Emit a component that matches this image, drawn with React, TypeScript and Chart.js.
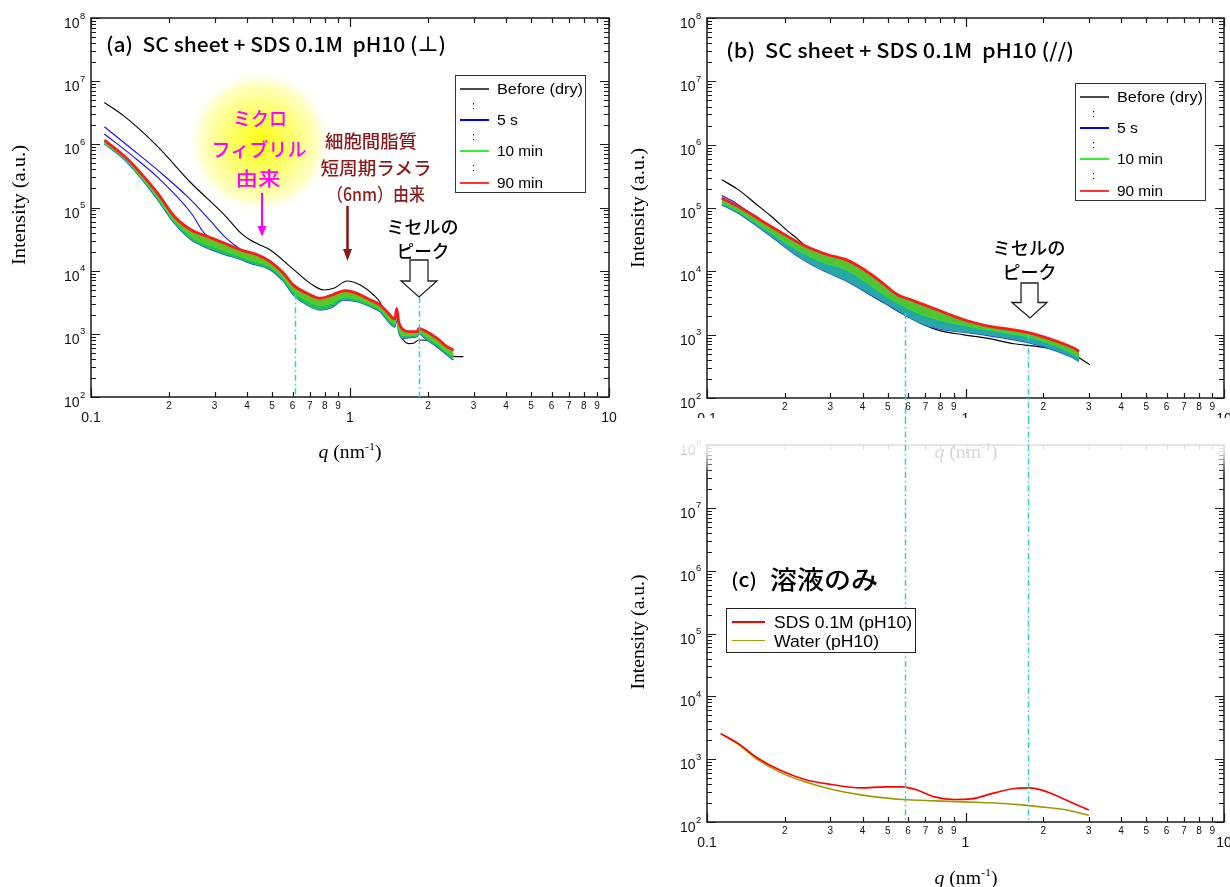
import React, { useEffect, useLayoutEffect, useRef } from 'react';
import { Chart, registerables } from 'chart.js';

Chart.register(...registerables);

type P = [number, number];

// ---------------- Panel (a): SC sheet + SDS 0.1M pH10 (⊥) ----------------
const aBefore: P[] = [
  [0.1126, 4.6e6], [0.135, 2.74e6], [0.181, 9.2e5], [0.244, 2.42e5], [0.328, 7.6e4],
  [0.38, 3.9e4], [0.412, 3.06e4], [0.441, 2.64e4], [0.492, 2.12e4], [0.588, 1.16e4],
  [0.702, 6.3e3], [0.791, 4.94e3], [0.865, 5.26e3], [0.974, 6.87e3], [1.096, 5.93e3],
  [1.234, 4.12e3], [1.309, 3.11e3], [1.39, 1.75e3], [1.49, 1.3e3], [1.515, 1.75e3],
  [1.545, 1.1e3], [1.6, 820], [1.68, 700], [1.76, 710], [1.84, 800], [1.98, 790],
  [2.17, 620], [2.37, 470], [2.51, 440], [2.74, 435],
];
const aBlue1: P[] = [
  [0.1126, 1.9e6], [0.143, 8.6e5], [0.181, 3.9e5], [0.244, 1.3e5], [0.291, 5.96e4],
  [0.328, 3.45e4], [0.358, 2.55e4], [0.38, 2.15e4],
];
const aBlue2: P[] = [
  [0.1126, 1.46e6], [0.143, 6.8e5], [0.181, 3.0e5], [0.244, 8.1e4], [0.274, 3.9e4], [0.3, 3.1e4],
];
const aTop: P[] = [
  [0.1126, 1.17e6], [0.135, 6.4e5], [0.156, 3.47e5], [0.181, 1.68e5], [0.21, 7.2e4],
  [0.244, 4.4e4], [0.283, 3.45e4], [0.328, 2.71e4], [0.38, 2.12e4], [0.441, 1.77e4],
  [0.492, 1.39e4], [0.554, 9.1e3], [0.605, 5.9e3], [0.682, 4.38e3], [0.768, 3.66e3],
  [0.852, 4.12e3], [0.959, 4.82e3], [1.064, 4.38e3], [1.198, 3.44e3], [1.309, 2.86e3],
  [1.39, 2.24e3], [1.49, 1.72e3], [1.515, 2.53e3], [1.54, 1.6e3], [1.585, 1.22e3],
  [1.71, 1.08e3], [1.82, 1.08e3], [1.84, 1.22e3], [1.98, 1.08e3], [2.17, 849],
  [2.37, 627], [2.51, 555],
];
const aMid: P[] = [
  [0.1126, 1.07e6], [0.135, 5.95e5], [0.156, 3.1e5], [0.181, 1.45e5], [0.21, 6.2e4],
  [0.244, 3.5e4], [0.283, 2.6e4], [0.328, 2.1e4], [0.38, 1.7e4], [0.412, 1.5e4],
  [0.492, 1.16e4], [0.554, 7.6e3], [0.605, 4.8e3], [0.682, 3.4e3], [0.768, 2.85e3],
  [0.852, 3.1e3], [0.944, 3.9e3], [1.064, 3.6e3], [1.198, 2.95e3], [1.309, 2.45e3],
  [1.39, 1.85e3], [1.49, 1.45e3], [1.515, 2.0e3], [1.54, 1.25e3], [1.6, 950],
  [1.75, 960], [1.82, 980], [1.84, 1.1e3], [1.98, 900], [2.17, 700], [2.37, 520], [2.51, 440],
];
const aBottom: P[] = [
  [0.1126, 1.02e6], [0.135, 5.65e5], [0.156, 2.9e5], [0.181, 1.32e5], [0.21, 5.6e4],
  [0.244, 3.06e4], [0.283, 2.26e4], [0.328, 1.8e4], [0.38, 1.5e4], [0.412, 1.31e4],
  [0.492, 1.03e4], [0.554, 6.7e3], [0.605, 4.12e3], [0.682, 2.86e3], [0.768, 2.39e3],
  [0.852, 2.63e3], [0.944, 3.44e3], [1.064, 3.23e3], [1.198, 2.69e3], [1.309, 2.24e3],
  [1.39, 1.66e3], [1.49, 1.28e3], [1.515, 1.76e3], [1.54, 1.08e3], [1.6, 849],
  [1.75, 880], [1.82, 902], [1.84, 1.0e3], [1.98, 800], [2.17, 627], [2.37, 462], [2.51, 385],
];

// ---------------- Panel (b): SC sheet + SDS 0.1M pH10 (//) ----------------
const bBefore: P[] = [
  [0.114, 2.8e5], [0.132, 1.95e5], [0.153, 1.2e5], [0.177, 7.4e4], [0.206, 4.27e4],
  [0.225, 3.2e4], [0.269, 1.62e4], [0.321, 1.06e4], [0.361, 7.4e3], [0.419, 4.5e3],
  [0.486, 3.16e3], [0.563, 2.2e3], [0.652, 1.62e3], [0.778, 1.19e3], [0.987, 995],
  [1.21, 883], [1.54, 718], [1.89, 652], [2.26, 578], [2.62, 482], [3.03, 335],
];
const bBlue: P[] = [[0.114, 1.58e5], [0.125, 1.3e5], [0.14, 9.6e4], [0.16, 6.8e4]];
const bTop: P[] = [
  [0.114, 1.44e5], [0.132, 1.06e5], [0.177, 5.1e4], [0.239, 2.53e4], [0.293, 1.83e4],
  [0.35, 1.49e4], [0.406, 1.06e4], [0.47, 6.9e3], [0.546, 4.27e3], [0.615, 3.56e3],
  [0.778, 2.47e3], [0.987, 1.72e3], [1.21, 1.38e3], [1.54, 1.19e3], [1.89, 995],
  [2.26, 782], [2.62, 614], [2.75, 543],
];
const bMid: P[] = [
  [0.114, 1.22e5], [0.132, 9.0e4], [0.177, 4.1e4], [0.225, 2.2e4], [0.277, 1.45e4],
  [0.35, 1.05e4], [0.419, 6.6e3], [0.5, 4.0e3], [0.58, 2.85e3], [0.69, 2.05e3],
  [0.83, 1.65e3], [1.045, 1.35e3], [1.41, 1.1e3], [1.78, 920], [2.18, 700],
  [2.54, 540], [2.75, 440],
];
const bBottom: P[] = [
  [0.114, 1.13e5], [0.132, 8.3e4], [0.177, 3.56e4], [0.225, 1.72e4], [0.277, 1.06e4],
  [0.35, 6.9e3], [0.419, 4.5e3], [0.5, 2.97e3], [0.58, 2.07e3], [0.69, 1.43e3],
  [0.83, 1.19e3], [1.045, 1.06e3], [1.41, 883], [1.78, 736], [2.18, 578],
  [2.54, 453], [2.75, 378],
];

// ---------------- Panel (c): 溶液のみ ----------------
const cSDS: P[] = [
  [0.113, 2550], [0.132, 1780], [0.158, 1026], [0.194, 652], [0.239, 475], [0.303, 395],
  [0.395, 349], [0.486, 362], [0.565, 362], [0.653, 321], [0.759, 251], [0.907, 228],
  [1.052, 233], [1.294, 291], [1.545, 341], [1.766, 349], [2.074, 301], [2.41, 231], [3.0, 155],
];
const cWater: P[] = [
  [0.113, 2550], [0.132, 1720], [0.158, 964], [0.194, 605], [0.239, 436], [0.303, 333],
  [0.395, 270], [0.486, 242], [0.57, 228], [0.77, 217], [0.99, 209], [1.29, 201],
  [1.65, 187], [2.07, 170], [2.41, 158], [3.0, 128],
];

// ---------------- axes / legends / guides ----------------
const xMajorTicks = [0.1, 1, 10];
const xMajorLabels = ['0.1', '1', '10'];
const xMinorDigits = [2, 3, 4, 5, 6, 7, 8, 9];
const yExponents = [2, 3, 4, 5, 6, 7, 8];

const legendLabels = ['Before (dry)', '5 s', '10 min', '90 min'];
const legendColors = ['#4a4a4a', '#0000ff', '#33ee33', '#ff3333'];
const legendWidths = [86, 21, 46, 46];
const cLegendLabels = ['SDS 0.1M (pH10)', 'Water (pH10)'];
const cLegendColors = ['#ff0000', '#a0a000'];
const cLegendWidths = [138, 105];

const aGuides = [{ q: 0.611, from: 4300 }, { q: 1.84, from: 3800 }];
const bGuides = [{ q: 0.583, from: 2200 }, { q: 1.746, from: 1000 }];
const cGuides = [{ q: 0.583 }, { q: 1.746 }];

const SANS = '"Liberation Sans", Arial, sans-serif';
const JP = '"Noto Sans CJK JP", "Noto Sans", sans-serif';
const SERIF = '"Liberation Serif", "Times New Roman", serif';

const toXY = (arr: P[]) => arr.map(([x, y]) => ({ x, y }));

const decor = {
  id: 'decor',
  afterDraw(chart: any, _args: any, o: any) {
    const { ctx, chartArea: ca } = chart;
    const xs = chart.scales.x;
    const ys = chart.scales.y;
    ctx.save();
    ctx.strokeStyle = '#1a1a1a';
    ctx.lineWidth = 1.5;
    ctx.strokeRect(ca.left, ca.top, ca.right - ca.left, ca.bottom - ca.top);
    ctx.lineWidth = 1.2;
    ctx.beginPath();
    const xv: [number, boolean][] = [];
    [0.1, 1].forEach((d) => {
      for (let m = 1; m <= 9; m++) xv.push([m * d, m === 1]);
    });
    xv.push([10, true]);
    for (const [v, major] of xv) {
      const px = Math.round(xs.getPixelForValue(v)) + 0.5;
      const L = major ? 9 : 5;
      ctx.moveTo(px, ca.bottom);
      ctx.lineTo(px, ca.bottom - L);
      ctx.moveTo(px, ca.top);
      ctx.lineTo(px, ca.top + L);
    }
    const yv: [number, boolean][] = [];
    for (let n = 2; n <= 7; n++) for (let m = 1; m <= 9; m++) yv.push([m * Math.pow(10, n), m === 1]);
    yv.push([1e8, true]);
    for (const [v, major] of yv) {
      const py = Math.round(ys.getPixelForValue(v)) + 0.5;
      const L = major ? 9 : 5;
      ctx.moveTo(ca.left, py);
      ctx.lineTo(ca.left + L, py);
      ctx.moveTo(ca.right, py);
      ctx.lineTo(ca.right - L, py);
    }
    ctx.stroke();
    ctx.fillStyle = '#111';
    ctx.textAlign = 'center';
    ctx.textBaseline = 'alphabetic';
    ctx.font = `10px ${SANS}`;
    [0.1, 1].forEach((d) => {
      for (const m of xMinorDigits) ctx.fillText(String(m), xs.getPixelForValue(m * d), ca.bottom + 12);
    });
    ctx.font = `14px ${SANS}`;
    xMajorTicks.forEach((v, i) => ctx.fillText(xMajorLabels[i], xs.getPixelForValue(v), ca.bottom + 25));
    for (const n of yExponents) {
      const py = ys.getPixelForValue(Math.pow(10, n));
      ctx.font = `14px ${SANS}`;
      ctx.textAlign = 'right';
      ctx.fillText('10', ca.left - 11.5, py + 10);
      ctx.font = `9.5px ${SANS}`;
      ctx.textAlign = 'left';
      ctx.fillText(String(n), ca.left - 11, py + 0.5);
    }
    if (o.fade) {
      const [full, end] = o.fade;
      const g = ctx.createLinearGradient(0, 0, 0, end);
      g.addColorStop(0, 'rgba(255,255,255,0.88)');
      g.addColorStop(full / end, 'rgba(255,255,255,0.85)');
      g.addColorStop(1, 'rgba(255,255,255,0)');
      ctx.fillStyle = g;
      ctx.fillRect(0, 0, chart.width, end);
    }
    ctx.strokeStyle = '#30d5c0';
    ctx.lineWidth = 1.5;
    ctx.setLineDash([6, 3, 1.5, 3]);
    for (const gd of o.guides || []) {
      const px = Math.round(xs.getPixelForValue(gd.q)) + 0.5;
      const y0 = gd.from != null ? ys.getPixelForValue(gd.from) : 0;
      const y1 = o.toCanvasBottom ? chart.height : ca.bottom;
      ctx.beginPath();
      ctx.moveTo(px, y0);
      ctx.lineTo(px, y1);
      ctx.stroke();
    }
    ctx.restore();
  },
};

function line(data: P[], color: string, width: number, extra: any = {}) {
  return {
    data: toXY(data),
    borderColor: color,
    borderWidth: width,
    pointRadius: 0,
    fill: false,
    cubicInterpolationMode: 'monotone',
    ...extra,
  };
}

function makeConfig(datasets: any[], pad: any, yW: number, xH: number, decorOpts: any) {
  return {
    type: 'line',
    data: { datasets },
    options: {
      responsive: false,
      animation: false,
      events: [],
      layout: { padding: pad },
      plugins: { legend: { display: false }, tooltip: { enabled: false }, decor: decorOpts },
      scales: {
        x: {
          type: 'logarithmic', min: 0.1, max: 10,
          grid: { display: false }, border: { display: false }, ticks: { display: false },
          afterFit: (s: any) => { s.height = xH; },
        },
        y: {
          type: 'logarithmic', min: 100, max: 1e8,
          grid: { display: false }, border: { display: false }, ticks: { display: false },
          afterFit: (s: any) => { s.width = yW; },
        },
      },
    },
    plugins: [decor],
  } as any;
}

const makeA = () => makeConfig([
  line(aTop, '#ff1a1a', 2.8, { fill: 1, backgroundColor: '#5ec428' }),
  line(aMid, '#28e830', 1.8, { fill: 2, backgroundColor: '#22bc5c' }),
  line(aBottom, '#2050ff', 1.4),
  line(aBlue1, '#1010ff', 1.1),
  line(aBlue2, '#1010ff', 1.1),
  line(aBefore, '#000000', 1.1),
], { left: 0, top: 18, right: 11, bottom: 0 }, 91, 73, { guides: aGuides });

const makeB = () => makeConfig([
  line(bTop, '#ff1a1a', 2.8, { fill: 1, backgroundColor: '#52c432' }),
  line(bMid, '#28e830', 1.8, { fill: 2, backgroundColor: '#28a8a4' }),
  line(bBottom, '#2040ff', 1.4),
  line(bBlue, '#1010ff', 1.1),
  line(bBefore, '#000000', 1.2),
], { left: 0, top: 18, right: 6, bottom: 0 }, 87, 20, { guides: bGuides, toCanvasBottom: true });

const makeC = () => makeConfig([
  line(cSDS, '#ff0000', 1.6),
  line(cWater, '#9a9a00', 1.6),
], { left: 0, top: 27, right: 6, bottom: 0 }, 87, 65, { guides: cGuides, fade: [34, 56] });

function ChartCanvas({ left, top, width, height, make }: any) {
  const ref = useRef<HTMLCanvasElement>(null);
  useEffect(() => {
    const chart = new Chart(ref.current as HTMLCanvasElement, make());
    return () => chart.destroy();
  }, []);
  return (
    <canvas ref={ref} width={width} height={height}
      style={{ position: 'absolute', left, top, width, height, zIndex: 1 }} />
  );
}

type LabelProps = {
  x: number; y: number; w?: number; size: number; color?: string; family?: string;
  rot?: number; anchor?: 'center' | 'left'; weight?: number; children: React.ReactNode;
};
function Label({ x, y, w, size, color = '#000', family = SANS, rot = 0, anchor = 'center', weight = 400, children }: LabelProps) {
  const ref = useRef<HTMLDivElement>(null);
  useLayoutEffect(() => {
    const el = ref.current;
    if (!el) return;
    el.style.transform = 'none';
    const nat = el.getBoundingClientRect().width;
    const s = w && nat > 0 ? w / nat : 1;
    const tx = anchor === 'left' ? '0' : '-50%';
    el.style.transform = `translate(${tx}, -50%) rotate(${rot}deg) scaleX(${s})`;
  }, []);
  return (
    <div ref={ref} style={{
      position: 'absolute', left: x, top: y, whiteSpace: 'pre', fontFamily: family, fontSize: size,
      fontWeight: weight, lineHeight: 1, color, transformOrigin: anchor === 'left' ? '0 50%' : '50% 50%', zIndex: 3,
    }}>{children}</div>
  );
}

function QTitle({ x, y, color = '#000' }: { x: number; y: number; color?: string }) {
  return (
    <Label x={x} y={y} w={63} size={18} family={SERIF} color={color}>
      <i>q</i> (nm<span style={{ fontSize: 11, verticalAlign: '8px' }}>-1</span>)
    </Label>
  );
}

function Legend4({ left, top }: { left: number; top: number }) {
  const rows = [13.5, 45, 76, 108];
  const colons = [29.5, 60.5, 92];
  return (
    <>
      <div style={{ position: 'absolute', left, top, width: 131, height: 118, border: '1.5px solid #333', boxSizing: 'border-box', background: '#fff', zIndex: 2 }} />
      {legendLabels.map((t, i) => (
        <React.Fragment key={t}>
          <div style={{ position: 'absolute', left: left + 5, top: top + rows[i] - 1, width: 29, height: 2, background: legendColors[i], zIndex: 3 }} />
          <Label x={left + 42} y={top + rows[i]} w={legendWidths[i]} size={14} anchor="left">{t}</Label>
        </React.Fragment>
      ))}
      {colons.map((c, i) => (
        <Label key={i} x={left + 17} y={top + c} size={11} anchor="left">:</Label>
      ))}
    </>
  );
}

export default function App() {
  useEffect(() => {
    document.body.style.margin = '0';
    document.body.style.background = '#fff';
  }, []);
  return (
    <div style={{ position: 'absolute', left: 0, top: 0, width: 1230, height: 887, overflow: 'hidden', background: '#fff' }}>
      <svg width={1230} height={887} style={{ position: 'absolute', left: 0, top: 0, zIndex: 0 }}>
        <defs>
          <radialGradient id="glow">
            <stop offset="0%" stopColor="#ffff10" />
            <stop offset="45%" stopColor="#ffff70" />
            <stop offset="80%" stopColor="#ffffc4" />
            <stop offset="100%" stopColor="#ffffff" stopOpacity="0" />
          </radialGradient>
        </defs>
        <circle cx={260} cy={142} r={73} fill="url(#glow)" />
      </svg>

      <ChartCanvas left={0} top={0} width={620} height={470} make={makeA} />
      <ChartCanvas left={620} top={0} width={610} height={418} make={makeB} />
      <ChartCanvas left={620} top={418} width={610} height={469} make={makeC} />

      <svg width={1230} height={887} style={{ position: 'absolute', left: 0, top: 0, zIndex: 2, pointerEvents: 'none' }}>
        <line x1={262} y1={193} x2={262} y2={229} stroke="#ff00ff" strokeWidth={2} />
        <polygon points="257.5,226 266.5,226 262,236.5" fill="#ff00ff" />
        <line x1={347.5} y1={206} x2={347.5} y2={252} stroke="#8b1a1a" strokeWidth={2.6} />
        <polygon points="343,249 352,249 347.5,261" fill="#8b1a1a" />
        <polygon points="410,260 428,260 428,281 437,281 419,297 401,281 410,281" fill="#fff" stroke="#222" strokeWidth={1.3} />
        <polygon points="1021,283 1038,283 1038,302.5 1047,302.5 1030,318 1012,302.5 1021,302.5" fill="#fff" stroke="#222" strokeWidth={1.3} />
      </svg>

      <Label x={106} y={44} w={340} size={20} family={JP} weight={500} anchor="left">(a)  SC sheet + SDS 0.1M  pH10 (⊥)</Label>
      <Label x={726} y={50} w={348} size={20} family={JP} weight={500} anchor="left">(b)  SC sheet + SDS 0.1M  pH10 (//)</Label>
      <Label x={744} y={578} w={26} size={19} family={JP} weight={500}>(c)</Label>
      <Label x={824} y={578} w={108} size={25} family={JP} weight={500}>溶液のみ</Label>

      <Label x={260} y={117} w={54} size={19} family={JP} weight={500} color="#ff00ff">ミクロ</Label>
      <Label x={259} y={147.5} w={95} size={19} family={JP} weight={500} color="#ff00ff">フィブリル</Label>
      <Label x={258} y={177} w={45} size={19} family={JP} weight={500} color="#ff00ff">由来</Label>
      <Label x={371} y={140} w={92} size={18} family={JP} weight={500} color="#8b1a1a">細胞間脂質</Label>
      <Label x={375.5} y={167} w={111} size={18} family={JP} weight={500} color="#8b1a1a">短周期ラメラ</Label>
      <Label x={376} y={193} w={98} size={18} family={JP} weight={500} color="#8b1a1a">（6nm）由来</Label>
      <Label x={422.5} y={226} w={72} size={18} family={JP} weight={500}>ミセルの</Label>
      <Label x={423} y={250} w={53} size={18} family={JP} weight={500}>ピーク</Label>

      <Label x={1028.5} y={247} w={73} size={18} family={JP} weight={500}>ミセルの</Label>
      <Label x={1029.5} y={271} w={54} size={18} family={JP} weight={500}>ピーク</Label>

      <Legend4 left={455} top={75} />
      <Legend4 left={1075} top={83} />
      <div style={{ position: 'absolute', left: 726, top: 608, width: 190, height: 45, border: '1.5px solid #222', boxSizing: 'border-box', background: '#fff', zIndex: 2 }} />
      {cLegendLabels.map((t, i) => (
        <React.Fragment key={t}>
          <div style={{ position: 'absolute', left: 732, top: 621 + i * 18.5, width: 33, height: 1.8, background: cLegendColors[i], zIndex: 3 }} />
          <Label x={774} y={622 + i * 18.5} w={cLegendWidths[i]} size={17} anchor="left">{t}</Label>
        </React.Fragment>
      ))}

      <Label x={19} y={205} w={120} size={18} family={SERIF} rot={-90}>Intensity (a.u.)</Label>
      <Label x={638} y={208} w={120} size={18} family={SERIF} rot={-90}>Intensity (a.u.)</Label>
      <Label x={638} y={632} w={115} size={18} family={SERIF} rot={-90}>Intensity (a.u.)</Label>
      <QTitle x={350} y={451} />
      <QTitle x={966} y={451} color="#d6d6d6" />
      <QTitle x={966} y={877} />
    </div>
  );
}
